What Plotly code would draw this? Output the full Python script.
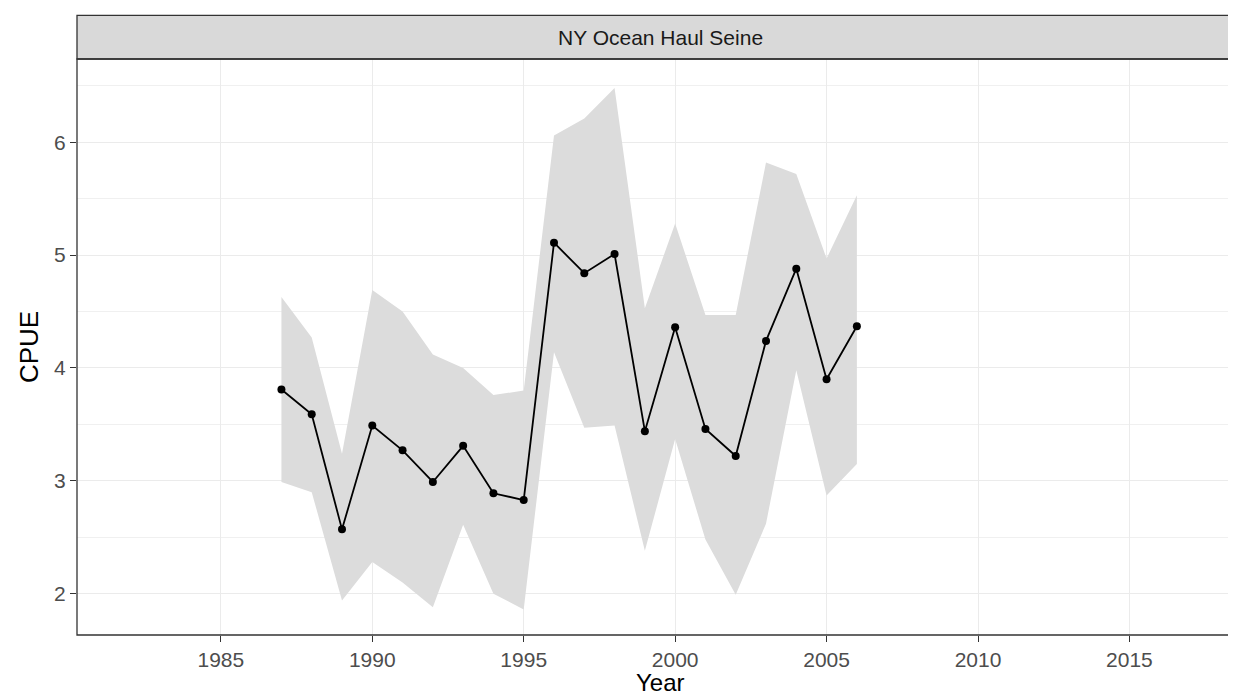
import plotly.graph_objects as go

years = [1987, 1988, 1989, 1990, 1991, 1992, 1993, 1994, 1995, 1996,
         1997, 1998, 1999, 2000, 2001, 2002, 2003, 2004, 2005, 2006]
cpue = [3.81, 3.59, 2.57, 3.49, 3.27, 2.99, 3.31, 2.89, 2.83, 5.11,
        4.84, 5.01, 3.44, 4.36, 3.46, 3.22, 4.24, 4.88, 3.90, 4.37]
upper = [4.63, 4.27, 3.24, 4.69, 4.50, 4.12, 4.00, 3.76, 3.80, 6.06,
         6.21, 6.48, 4.53, 5.28, 4.47, 4.47, 5.82, 5.72, 4.97, 5.53]
lower = [2.99, 2.90, 1.94, 2.28, 2.10, 1.88, 2.61, 2.00, 1.86, 4.14,
         3.47, 3.49, 2.38, 3.37, 2.48, 1.99, 2.62, 3.98, 2.87, 3.15]
x_ticks = [1985, 1990, 1995, 2000, 2005, 2010, 2015]
y_ticks = [2, 3, 4, 5, 6]
panel_title = "NY Ocean Haul Seine"
x_title = "Year"
y_title = "CPUE"

FONT = "Liberation Sans"
W, H = 1236, 696
ml, mr, mt, mb = 69, 1, 51, 69
plot_h = H - mt - mb

fig = go.Figure()
fig.add_trace(go.Scatter(x=years, y=lower, mode="lines", line=dict(width=0, color="rgba(0,0,0,0)"),
                         showlegend=False, hoverinfo="skip"))
fig.add_trace(go.Scatter(x=years, y=upper, mode="lines", line=dict(width=0, color="rgba(0,0,0,0)"),
                         fill="tonexty", fillcolor="#DCDCDC", showlegend=False, hoverinfo="skip"))
fig.add_trace(go.Scatter(x=years, y=cpue, mode="lines+markers",
                         line=dict(color="black", width=1.8),
                         marker=dict(color="black", size=8), showlegend=False))

strip_h = (51 - 7.3) / plot_h
fig.add_shape(type="rect", xref="paper", yref="paper", x0=0, x1=1, y0=1, y1=1 + strip_h,
              fillcolor="#D9D9D9", line=dict(color="#333333", width=1.3), layer="above")
fig.add_shape(type="rect", xref="paper", yref="paper", x0=0, x1=1, y0=0, y1=1,
              fillcolor="rgba(0,0,0,0)", line=dict(color="#333333", width=1.3), layer="above")
fig.add_annotation(text=panel_title, xref="paper", yref="paper", x=0.5, y=1 + strip_h / 2,
                   showarrow=False, font=dict(family=FONT, size=21, color="#1A1A1A"),
                   xanchor="center", yanchor="middle")
fig.add_annotation(text=x_title, xref="paper", yref="paper", x=0.5, y=-(674 - (H - mb)) / plot_h,
                   showarrow=False, font=dict(family=FONT, size=24, color="black"),
                   xanchor="center", yanchor="middle")

fig.update_xaxes(range=[1980.25, 2018.75], tickvals=x_ticks, ticktext=[str(v) for v in x_ticks],
                 showgrid=True, gridcolor="#EBEBEB", gridwidth=1.3, zeroline=False,
                 ticks="outside", ticklen=6, tickwidth=1.3, tickcolor="#333333",
                 tickfont=dict(family=FONT, size=21, color="#4D4D4D"),
                 showline=False)
fig.update_yaxes(range=[1.634, 6.738], tickvals=y_ticks, ticktext=[str(v) for v in y_ticks],
                 showgrid=True, gridcolor="#EBEBEB", gridwidth=1.3, zeroline=False,
                 minor=dict(tickvals=[1.5, 2.5, 3.5, 4.5, 5.5, 6.5], showgrid=True,
                            gridcolor="#F0F0F0", gridwidth=0.8, ticks=""),
                 ticks="outside", ticklen=6, tickwidth=1.3, tickcolor="#333333",
                 tickfont=dict(family=FONT, size=21, color="#4D4D4D"),
                 title=dict(text=y_title, font=dict(family=FONT, size=26, color="black"), standoff=8),
                 showline=False)

fig.update_layout(width=W, height=H, margin=dict(l=ml, r=mr, t=mt, b=mb, pad=0),
                  plot_bgcolor="white", paper_bgcolor="white", font=dict(family=FONT))
fig.write_html("out.html")
